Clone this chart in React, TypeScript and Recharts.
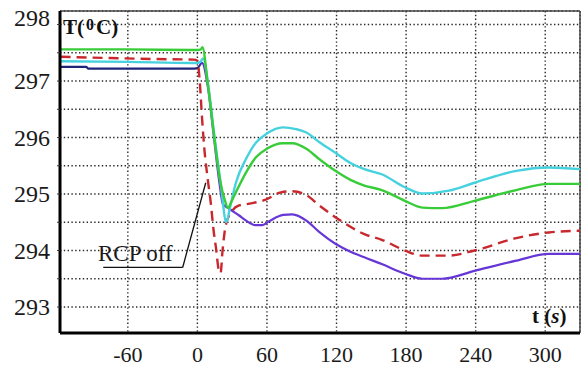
import React from "react";
import {
  CartesianGrid,
  Line,
  LineChart,
  ReferenceDot,
  ReferenceLine,
  XAxis,
  YAxis,
} from "recharts";

const timeTicks = [-60, 0, 60, 120, 180, 240, 300];
const tempTicks = [293, 293.5, 294, 294.5, 295, 295.5, 296, 296.5, 297, 297.5, 298];

// green
const greenT = [-118, -60, -5, 0, 3, 4.3, 9, 14, 19.5, 23.5, 26.5, 29, 33.2, 41.9, 50.5, 59.8, 73.7, 82, 94, 105, 119, 132, 144, 159, 179, 194, 211, 239, 275, 303, 330];
const greenV = [297.56, 297.56, 297.55, 297.55, 297.56, 297.6, 296.95, 296.1, 295.25, 294.9, 294.75, 294.85, 295.03, 295.38, 295.65, 295.8, 295.9, 295.9, 295.8, 295.62, 295.41, 295.25, 295.15, 295.07, 294.88, 294.76, 294.75, 294.88, 295.07, 295.18, 295.18];

// cyan
const cyanT = [-118, -60, -5, 0, 3, 5, 9.5, 14.5, 20, 25, 28, 33.2, 41.9, 50.5, 59.8, 73.7, 85, 94, 105, 119, 132, 144, 159, 179, 194, 217, 239, 275, 303, 330];
const cyanV = [297.35, 297.34, 297.32, 297.32, 297.35, 297.4, 296.9, 296.05, 295.2, 294.5, 294.75, 295.2, 295.62, 295.91, 296.07, 296.18, 296.15, 296.09, 295.92, 295.73, 295.55, 295.44, 295.35, 295.12, 295.01, 295.06, 295.2, 295.41, 295.47, 295.44];

// red dashed
const redT = [-118, -80, -38, -3, 0, 2, 4, 6, 9, 11.5, 14, 16, 18.5, 20, 21.7, 24.5, 30, 35, 45, 59, 72, 82, 94, 105, 119, 132, 144, 159, 179, 194, 217, 239, 275, 303, 330];
const redV = [297.43, 297.41, 297.39, 297.38, 297.36, 297.0, 296.35, 295.8, 295.25, 294.85, 294.35, 294.05, 293.65, 293.6, 294.0, 294.45, 294.7, 294.79, 294.83, 294.9, 295.03, 295.05, 294.98, 294.8, 294.59, 294.42, 294.29, 294.19, 294.0, 293.91, 293.91, 294.0, 294.22, 294.32, 294.35];

// navy -> purple
const purpleT = [-118, -96, -94, -5, 0, 4, 9, 14, 19, 22, 26, 30.3, 36, 42, 50, 56, 62, 74, 82, 94, 105, 119, 132, 144, 159, 179, 194, 211, 239, 275, 303, 330];
const purpleV = [297.25, 297.25, 297.22, 297.22, 297.23, 297.32, 296.9, 296.05, 295.2, 294.82, 294.76, 294.7, 294.62, 294.53, 294.45, 294.45, 294.52, 294.63, 294.64, 294.53, 294.33, 294.12, 293.98, 293.88, 293.76, 293.59, 293.5, 293.5, 293.64, 293.82, 293.94, 293.94];

const toPoints = (ts: number[], vs: number[]) => ts.map((t, i) => ({ t, v: vs[i] }));

const SERIF = '"Liberation Serif", "Times New Roman", serif';

function TempTick({ x, y, payload }: any) {
  const v = Number(payload?.value);
  if (v % 1 !== 0) return <g />;
  const shift = v === 298 ? -7 : 0;
  return (
    <text x={x} y={y + shift} dy="0.34em" textAnchor="end" fontFamily={SERIF} fontSize={24} fill="#1a1a1a">
      {v}
    </text>
  );
}

export default function App() {
  return (
    <div style={{ position: "relative", width: 583, height: 366, background: "#fff" }}>
      <style>{"body{margin:0}"}</style>
      <LineChart width={583} height={366} margin={{ top: 11, right: 3, bottom: 0, left: 0 }}>
        <defs>
          <linearGradient id="purpleStroke" x1="0" y1="0" x2="1" y2="0">
            <stop offset="0%" stopColor="#1e2478" />
            <stop offset="26.5%" stopColor="#1e2478" />
            <stop offset="27.5%" stopColor="#6636d6" />
            <stop offset="100%" stopColor="#6636d6" />
          </linearGradient>
        </defs>
        <CartesianGrid stroke="#2a2a2a" strokeDasharray="1.4 2.4" strokeWidth={1.4} />
        <XAxis
          type="number"
          dataKey="t"
          domain={[-118.5, 330]}
          ticks={timeTicks}
          allowDataOverflow
          height={33}
          tickLine={false}
          tickSize={0}
          tickMargin={13}
          axisLine={{ stroke: "#000", strokeWidth: 3 }}
          tick={{ fontFamily: SERIF, fontSize: 22, fill: "#1a1a1a" }}
        />
        <YAxis
          type="number"
          domain={[292.54, 298.24]}
          ticks={tempTicks}
          allowDataOverflow
          width={60}
          tickSize={3}
          tickMargin={7}
          tickLine={{ stroke: "#333" }}
          axisLine={{ stroke: "#000", strokeWidth: 3 }}
          tick={(p: any) => <TempTick {...p} />}
        />
        <ReferenceLine y={298.24} stroke="#444" strokeWidth={1.5} ifOverflow="visible" />
        <ReferenceLine x={330} stroke="#444" strokeWidth={1.5} ifOverflow="visible" />

        <Line data={toPoints(purpleT, purpleV)} dataKey="v" type="monotone" stroke="url(#purpleStroke)" strokeWidth={2.2} dot={false} activeDot={false} isAnimationActive={false} />
        <Line data={toPoints(redT, redV)} dataKey="v" type="monotone" stroke="#c8282d" strokeWidth={2.4} strokeDasharray="10 6" dot={false} activeDot={false} isAnimationActive={false} />
        <Line data={toPoints(cyanT, cyanV)} dataKey="v" type="monotone" stroke="#45d2de" strokeWidth={2.4} dot={false} activeDot={false} isAnimationActive={false} />
        <Line data={toPoints(greenT, greenV)} dataKey="v" type="monotone" stroke="#38cc38" strokeWidth={2.4} dot={false} activeDot={false} isAnimationActive={false} />

        <ReferenceLine segment={[{ x: -81.2, y: 293.7 }, { x: -12.7, y: 293.7 }]} stroke="#111" strokeWidth={1.3} ifOverflow="visible" />
        <ReferenceLine segment={[{ x: -12.7, y: 293.7 }, { x: 7.2, y: 295.2 }]} stroke="#111" strokeWidth={1.3} ifOverflow="visible" />
        <ReferenceDot
          x={-53.5}
          y={293.96}
          r={0}
          fill="none"
          stroke="none"
          label={{ value: "RCP off", position: "center", fontFamily: SERIF, fontSize: 23, fill: "#1a1a1a" }}
        />
      </LineChart>
      <div
        style={{
          position: "absolute",
          left: 63,
          top: 15,
          fontFamily: SERIF,
          fontWeight: "bold",
          fontSize: 21,
          lineHeight: "24px",
          color: "#111",
          whiteSpace: "nowrap",
        }}
      >
        T(<span style={{ fontSize: 16, position: "relative", top: -4, margin: "0 2px" }}>0</span>C)
      </div>
      <div
        style={{
          position: "absolute",
          left: 532,
          top: 304,
          fontFamily: SERIF,
          fontWeight: "bold",
          fontSize: 21,
          lineHeight: "24px",
          color: "#111",
          whiteSpace: "nowrap",
        }}
      >
        t (<i>s</i>)
      </div>
    </div>
  );
}
